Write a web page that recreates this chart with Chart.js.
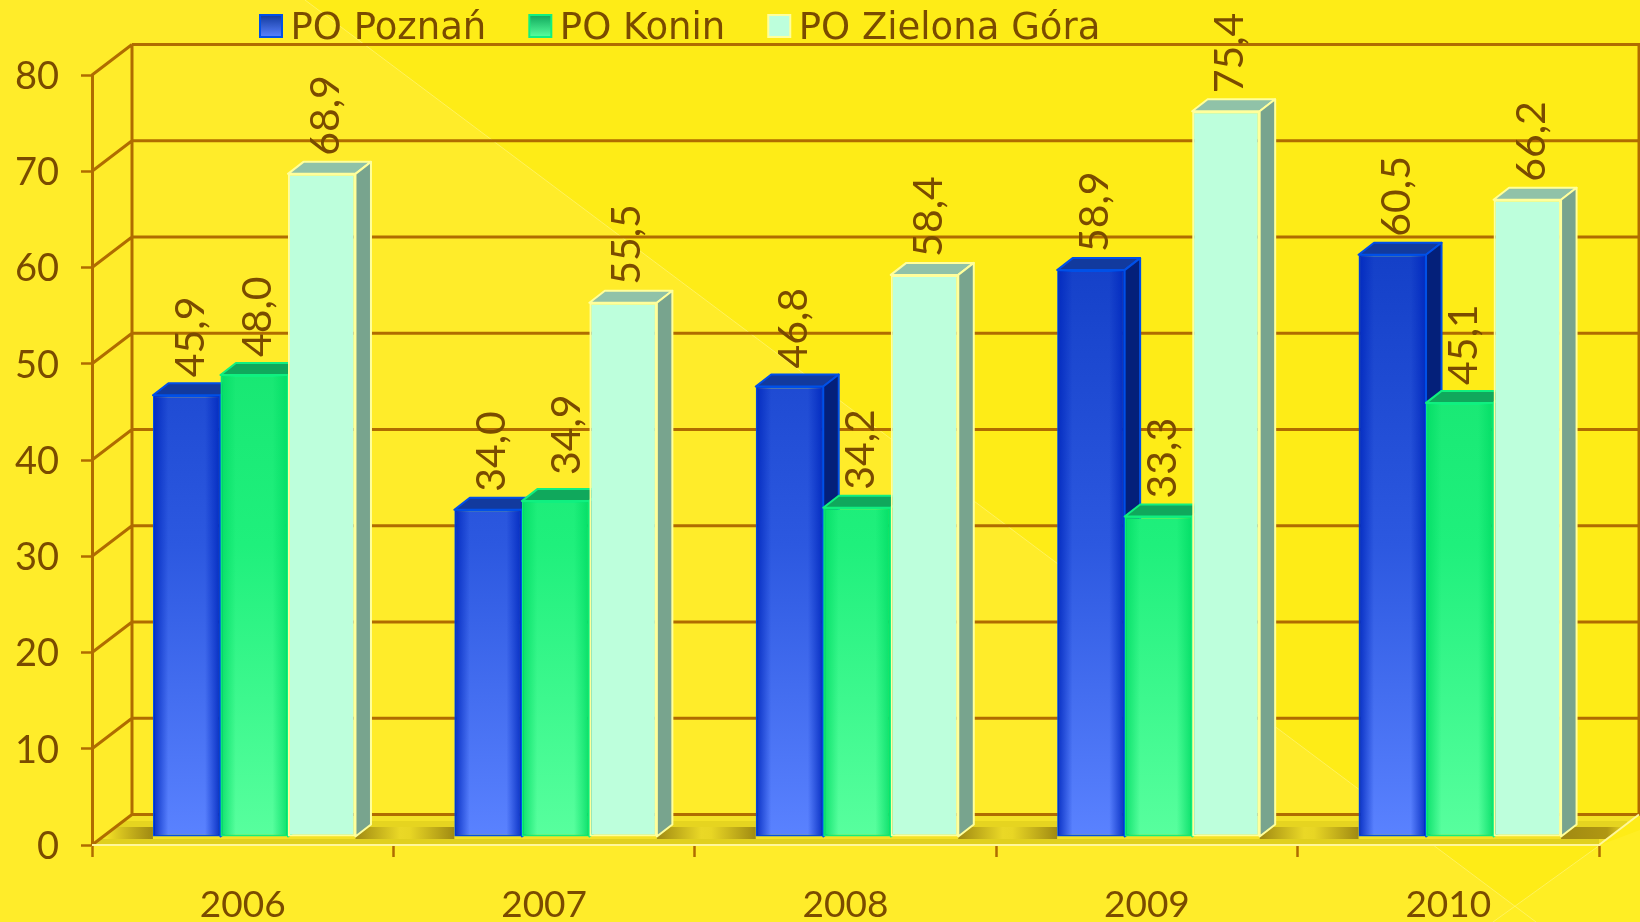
<!DOCTYPE html>
<html><head><meta charset="utf-8">
<style>html,body{margin:0;padding:0;background:#FFEC1C}canvas{display:block}</style>
<script src="https://cdn.jsdelivr.net/npm/chart.js@4"></script></head>
<body><div style="width:1640px;height:922px"><canvas id="c" width="1640" height="922"></canvas></div>
<script>
const categories = ['2006','2007','2008','2009','2010'];
const poznan = [45.9,34.0,46.8,58.9,60.5];
const konin = [48.0,34.9,34.2,33.3,45.1];
const zielona = [68.9,55.5,58.4,75.4,66.2];
const seriesNames = ['PO Poznań','PO Konin','PO Zielona Góra'];
const INK='#7A4B00', GRID='#B06C00';
const FONT='"Lato","Open Sans",sans-serif';
const LEGEND_FONT='"DejaVu Sans ExtraLight","DejaVu Sans",sans-serif';
const BAR_DX=11.5,BAR_DY=-8,DEPTH_X=15.5,DEPTH_Y=12,WALL_X=40,WALL_Y=30.5;
const looks=[
 {top:'#123A9E',side:'#04207A',border:'#0050E8',a:'#1440C8',m:'#2C58E0',b:'#5A82FF',edge:'rgba(0,40,190,.85)'},
 {top:'#10A85C',side:'#0C9C54',border:'#10F080',a:'#14E26E',m:'#1FF07C',b:'#58FF9E',edge:'rgba(0,220,100,.8)'},
 {top:'#90C2A8',side:'#78A48E',border:'#FFFF9C',a:'#BDFFDC',m:'#BDFFDC',b:'#BDFFDC',edge:null}];
function vgrad(ctx,chart,k){const s=chart.scales.y;const g=ctx.createLinearGradient(0,s.getPixelForValue(80),0,s.getPixelForValue(0));g.addColorStop(0.25,k.a);g.addColorStop(0.62,k.m);g.addColorStop(1,k.b);return g;}
const LEG_LEFT=217,LEG_TOP=-32.5,LEG_PAD=43;
const scene={id:'scene',
 beforeLayout(chart){const l=chart.legend;if(l&&!l._wrapped){const f=l.fit;l.fit=function(){f.call(this);this.height=0;};l._wrapped=true;}},
 beforeDraw(chart){const c=chart.ctx;c.save();
  c.fillStyle='#FFEC2A';c.fillRect(0,0,1640,922);
  c.fillStyle='#FEEC17';c.beginPath();c.moveTo(305,0);c.lineTo(1640,0);c.lineTo(1640,922);c.lineTo(1536,922);c.closePath();c.fill();
  c.fillStyle='#FFEE24';c.beginPath();c.moveTo(1640,830);c.lineTo(1640,922);c.lineTo(1493,922);c.lineTo(1600,845);c.closePath();c.fill();
  c.strokeStyle='rgba(255,245,120,.7)';c.lineWidth=1;c.beginPath();c.moveTo(305,0);c.lineTo(1536,922);c.moveTo(1600,845);c.lineTo(1493,922);c.stroke();
  c.restore();},
 afterLayout(chart){const l=chart.legend;l.left=LEG_LEFT;l.right=1640;l.top=LEG_TOP;l.bottom=100;},
 beforeDatasetsDraw(chart){const c=chart.ctx,y=chart.scales.y,ar=chart.chartArea;
  c.save();
  const y0=y.getPixelForValue(0);
  // floor, everything on it clipped to the floor shape
  c.save();
  c.beginPath();c.moveTo(ar.left,y0);c.lineTo(ar.right,y0);c.lineTo(ar.right+WALL_X,y0-WALL_Y);c.lineTo(ar.left+WALL_X,y0-WALL_Y);c.closePath();
  c.fillStyle='#F4E226';c.fill();c.clip();
  c.fillStyle='#E0D01E';c.fillRect(ar.left,y0-6,ar.right-ar.left,6);
  // shadows between bar groups
  const m0=chart.getDatasetMeta(0).data,m2=chart.getDatasetMeta(2).data;
  const sy=y0-18,sh=12;
  for(let i=0;i<=categories.length;i++){
    const from=i==0?ar.left+14:m2[i-1].x+m2[i-1].width/2+BAR_DX;
    const to=i==categories.length?ar.right+28:m0[i].x-m0[i].width/2+BAR_DX;
    const g=c.createLinearGradient(from,0,to,0);
    if(i==0){g.addColorStop(0,'rgba(150,125,15,0)');g.addColorStop(.25,'rgba(150,125,15,.25)');g.addColorStop(1,'#A08A12');}
    else if(i==categories.length){g.addColorStop(0,'#A08A12');g.addColorStop(.7,'#B09712');g.addColorStop(1,'rgba(170,145,15,0)');}
    else{g.addColorStop(0,'#A08A12');g.addColorStop(.45,'#EAD826');g.addColorStop(.55,'#E8D624');g.addColorStop(1,'#A08A12');}
    c.fillStyle=g;c.fillRect(from,sy,to-from,sh);
    c.fillStyle='rgba(200,180,20,.3)';c.fillRect(from,sy-6,to-from,6);
  }
  c.restore();
  // back wall and side wall
  c.strokeStyle=GRID;c.lineWidth=3;c.beginPath();
  y.ticks.forEach(t=>{const py=y.getPixelForValue(t.value);
    c.moveTo(ar.left,py);c.lineTo(ar.left+WALL_X,py-WALL_Y);
    c.moveTo(ar.left+WALL_X,py-WALL_Y);c.lineTo(1640,py-WALL_Y);});
  c.moveTo(ar.left+WALL_X,y.getPixelForValue(80)-WALL_Y);c.lineTo(ar.left+WALL_X,y0-WALL_Y);
  c.moveTo(1639,y.getPixelForValue(80)-WALL_Y);c.lineTo(1639,y0-WALL_Y);
  c.stroke();
  // floor front edge & right edge
  c.strokeStyle='#FFF79A';c.lineWidth=2;c.beginPath();c.moveTo(ar.left,y0);c.lineTo(ar.right,y0);c.lineTo(ar.right+WALL_X,y0-WALL_Y);c.stroke();
  c.restore();
  // bars: drawn through the library's own elements, first series at the back
  c.save();c.translate(BAR_DX,BAR_DY);
  chart.data.datasets.forEach((d,index)=>{const meta=chart.getDatasetMeta(index),k=looks[index];
   meta.data.forEach(b=>{const l=b.x-b.width/2,r=b.x+b.width/2,t=b.y,bt=b.base;
    c.lineWidth=2;c.lineJoin='round';c.strokeStyle=k.border;
    c.fillStyle=k.top;c.beginPath();c.moveTo(l,t);c.lineTo(l+DEPTH_X,t-DEPTH_Y);c.lineTo(r+DEPTH_X,t-DEPTH_Y);c.lineTo(r,t);c.closePath();c.fill();c.stroke();
    c.fillStyle=k.side;c.beginPath();c.moveTo(r,t);c.lineTo(r+DEPTH_X,t-DEPTH_Y);c.lineTo(r+DEPTH_X,bt-DEPTH_Y);c.lineTo(r,bt);c.closePath();c.fill();c.stroke();
   });
   meta.controller.draw();
   if(k.edge)meta.data.forEach(b=>{const l=b.x-b.width/2+1,r=b.x+b.width/2-1,t=b.y+1,h=b.base-b.y-2;
    const g=c.createLinearGradient(l,0,r,0);const z=k.edge.replace(/[\d.]+\)$/,'0)');
    g.addColorStop(0,k.edge);g.addColorStop(.22,z);g.addColorStop(.78,z);g.addColorStop(1,k.edge);
    c.fillStyle=g;c.fillRect(l,t,r-l,h);});
  });
  c.restore();
  // value labels (the 2007 Konin label sits a little off its bar in the reference)
  c.save();
  c.fillStyle=INK;c.font='400 41px '+FONT;c.textAlign='left';c.textBaseline='middle';
  chart.data.datasets.forEach((d,i)=>{chart.getDatasetMeta(i).data.forEach((b,j)=>{
    const moved=(i==1&&j==1);
    c.save();c.translate(b.x+BAR_DX+4+(moved?7:0),b.y+BAR_DY-18-(moved?8:0));c.rotate(-Math.PI/2);
    c.fillText(d.data[j].toFixed(1).replace('.',','),0,0);c.restore();});});
  c.restore();
  return false;},
 afterDraw(chart){const c=chart.ctx;c.save();let x=LEG_LEFT+LEG_PAD;
  chart.legend.legendHitBoxes.forEach((h,i)=>{const k=looks[i],y=15;
    const g=c.createLinearGradient(0,y,0,y+22);g.addColorStop(0,k.a==k.b?k.a:k.top);g.addColorStop(1,k.b);
    c.fillStyle=g;c.strokeStyle=k.border;c.lineWidth=2;c.fillRect(x,y,22,22);c.strokeRect(x,y,22,22);
    x+=h.width+LEG_PAD;});
  c.restore();}
};
function ds(label,data,i){return {label,data,clip:false,borderWidth:2,borderSkipped:false,borderColor:looks[i].border,
  backgroundColor:(ctx)=>vgrad(ctx.chart.ctx,ctx.chart,looks[i])};}
new Chart(document.getElementById('c'),{type:'bar',
 data:{labels:categories,datasets:[ds(seriesNames[0],poznan,0),ds(seriesNames[1],konin,1),ds(seriesNames[2],zielona,2)]},
 options:{responsive:false,animation:false,devicePixelRatio:1,
  layout:{padding:{left:0,right:41,top:75,bottom:0}},
  datasets:{bar:{categoryPercentage:.672,barPercentage:1}},
  plugins:{tooltip:{enabled:false},
   legend:{position:'top',align:'start',
    labels:{color:INK,font:{family:LEGEND_FONT,size:37},boxWidth:12,boxHeight:12,padding:LEG_PAD,
     generateLabels(chart){return chart.data.datasets.map((d,i)=>({text:d.label,fillStyle:'rgba(0,0,0,0)',strokeStyle:'rgba(0,0,0,0)',lineWidth:0,datasetIndex:i,fontColor:INK}));}}}},
  scales:{
   x:{afterFit(s){s.height=77;},border:{color:'#FFF79A',width:2},
      grid:{drawOnChartArea:false,tickColor:GRID,tickLength:12,tickWidth:2.5},
      ticks:{color:INK,font:{family:FONT,size:37},padding:26,maxRotation:0}},
   y:{min:0,max:80,afterFit(s){s.width=92;},border:{color:GRID,width:3},
      grid:{drawOnChartArea:false,tickColor:GRID,tickLength:11,tickWidth:2.5},
      ticks:{stepSize:10,color:INK,font:{family:FONT,size:38},padding:22,labelOffset:1.5}}
  }},
 plugins:[scene]});
</script></body></html>
